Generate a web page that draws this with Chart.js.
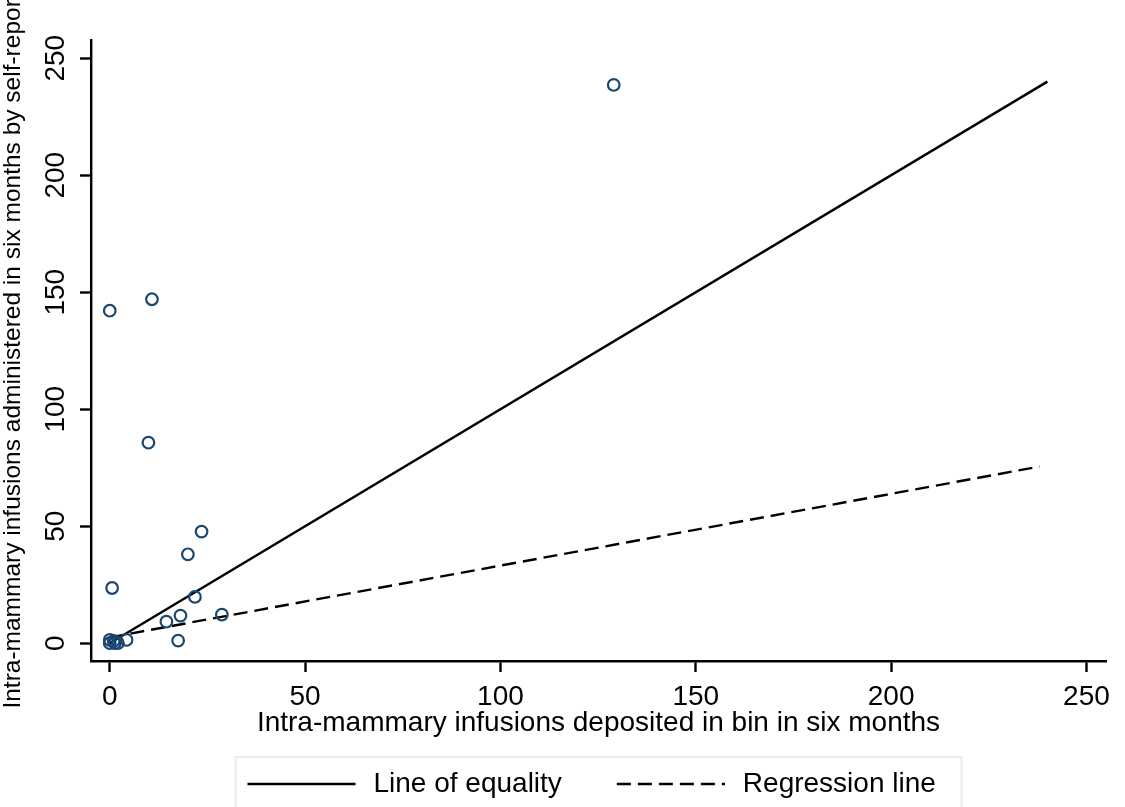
<!DOCTYPE html>
<html lang="en">
<head>
<meta charset="UTF-8" />
<title>Intra-mammary infusions: bin count vs self-report</title>
<script src="https://cdn.jsdelivr.net/npm/chart.js"></script>
<style>
	html, body { margin: 0; padding: 0; background: #fff; }
	#wrap { width: 1125px; height: 807px; }
</style>
</head>
<body>
<div id="wrap"><canvas id="scatterChart"></canvas></div>
<script>
// values
const depositedX = [129, 0, 10.8, 9.9, 23.5, 20, 0.6, 21.8, 28.7, 18.1, 14.5, 17.5, 4.3, 0, 0, 1.3, 2.1, 1];
const reportedY = [238.6, 142.1, 147, 85.7, 47.7, 38, 23.6, 19.8, 12.2, 11.8, 9.2, 1.1, 1.4, 1.4, 0, 0, 0, 1];

const equalityX = [0, 240];
const equalityY = [0, 240];
const regressionX = [0, 238];
const regressionY = [2.5, 75.5];

const xTicks = [0, 50, 100, 150, 200, 250];
const yTicks = [0, 50, 100, 150, 200, 250];

const xTitle = "Intra-mammary infusions deposited in bin in six months";
const yTitle = "Intra-mammary infusions administered in six months by self-report";
const legendLabels = ["Line of equality", "Regression line"];

const FONT = '"Liberation Sans", Arial, sans-serif';

function pairs(xs, ys) {
	return xs.map((x, i) => ({ x: x, y: ys[i] }));
}

// y title drawn by hand so it is not squeezed to the axis length
const yTitlePlugin = {
	id: "yTitle",
	afterDraw(chart) {
		const { ctx, chartArea } = chart;
		ctx.save();
		ctx.font = "24.5px " + FONT;
		ctx.fillStyle = "#000";
		ctx.textAlign = "center";
		ctx.textBaseline = "middle";
		ctx.translate(13.5, (chartArea.top + chartArea.bottom) / 2);
		ctx.rotate(-Math.PI / 2);
		ctx.fillText(yTitle, 0, 0);
		ctx.restore();
	},
};

// boxed legend under the x axis title
const boxLegendPlugin = {
	id: "boxLegend",
	afterDraw(chart) {
		const { ctx, chartArea } = chart;
		const boxW = 726;
		const top = 757;
		const left = (chartArea.left + chartArea.right) / 2 - boxW / 2;
		ctx.save();
		ctx.strokeStyle = "#e4ecf0";
		ctx.lineWidth = 2;
		ctx.strokeRect(left, top, boxW, chart.height - top + 10);

		const y = 784;
		let x = left + 12;
		ctx.font = "28px " + FONT;
		ctx.textAlign = "left";
		ctx.textBaseline = "middle";
		[1, 2].forEach((di, k) => {
			const ds = chart.data.datasets[di];
			ctx.beginPath();
			ctx.setLineDash(ds.borderDash || []);
			ctx.strokeStyle = ds.borderColor;
			ctx.lineWidth = ds.borderWidth;
			ctx.moveTo(x, y);
			ctx.lineTo(x + 108, y);
			ctx.stroke();
			ctx.setLineDash([]);
			x += 108 + 18;
			ctx.fillStyle = "#000";
			ctx.fillText(legendLabels[k], x, y);
			x += ctx.measureText(legendLabels[k]).width + 55;
		});
		ctx.restore();
	},
};

const axisGrid = {
	display: true,
	drawOnChartArea: false,
	drawTicks: true,
	tickLength: 11,
	tickWidth: 2.4,
	color: "#000",
};

new Chart(document.getElementById("scatterChart"), {
	type: "scatter",
	data: {
		datasets: [
			{
				label: "Observed",
				data: pairs(depositedX, reportedY),
				pointStyle: "circle",
				pointRadius: 5.8,
				pointBorderWidth: 2.2,
				pointBorderColor: "#1a476f",
				pointBackgroundColor: "rgba(0,0,0,0)",
			},
			{
				label: legendLabels[0],
				data: pairs(equalityX, equalityY),
				showLine: true,
				pointRadius: 0,
				borderColor: "#000",
				borderWidth: 2.4,
			},
			{
				label: legendLabels[1],
				data: pairs(regressionX, regressionY),
				showLine: true,
				pointRadius: 0,
				borderColor: "#000",
				borderWidth: 2.4,
				borderDash: [14, 7],
			},
		],
	},
	options: {
		responsive: true,
		maintainAspectRatio: false,
		animation: false,
		events: [],
		layout: { padding: { left: 0, top: 40, right: 19, bottom: 67 } },
		plugins: {
			legend: { display: false },
			tooltip: { enabled: false },
		},
		scales: {
			x: {
				type: "linear",
				min: -4.8,
				max: 255,
				afterBuildTicks: (s) => { s.ticks = xTicks.map((v) => ({ value: v })); },
				afterFit: (s) => { s.height = 79; },
				grid: axisGrid,
				border: { display: true, color: "#000", width: 2.4 },
				ticks: {
					color: "#000",
					font: { family: FONT, size: 28 },
					padding: 8,
					maxRotation: 0,
					autoSkip: false,
				},
				title: {
					display: true,
					text: xTitle,
					color: "#000",
					font: { family: FONT, size: 28 },
					padding: 0,
				},
			},
			y: {
				type: "linear",
				min: -7.6,
				max: 257.8,
				afterBuildTicks: (s) => { s.ticks = yTicks.map((v) => ({ value: v })); },
				afterFit: (s) => { s.width = 91; },
				grid: axisGrid,
				border: { display: true, color: "#000", width: 2.4 },
				ticks: {
					color: "#000",
					font: { family: FONT, size: 28 },
					padding: 0,
					minRotation: 90,
					maxRotation: 90,
					crossAlign: "center",
					autoSkip: false,
				},
			},
		},
	},
	plugins: [yTitlePlugin, boxLegendPlugin],
});
</script>
</body>
</html>
